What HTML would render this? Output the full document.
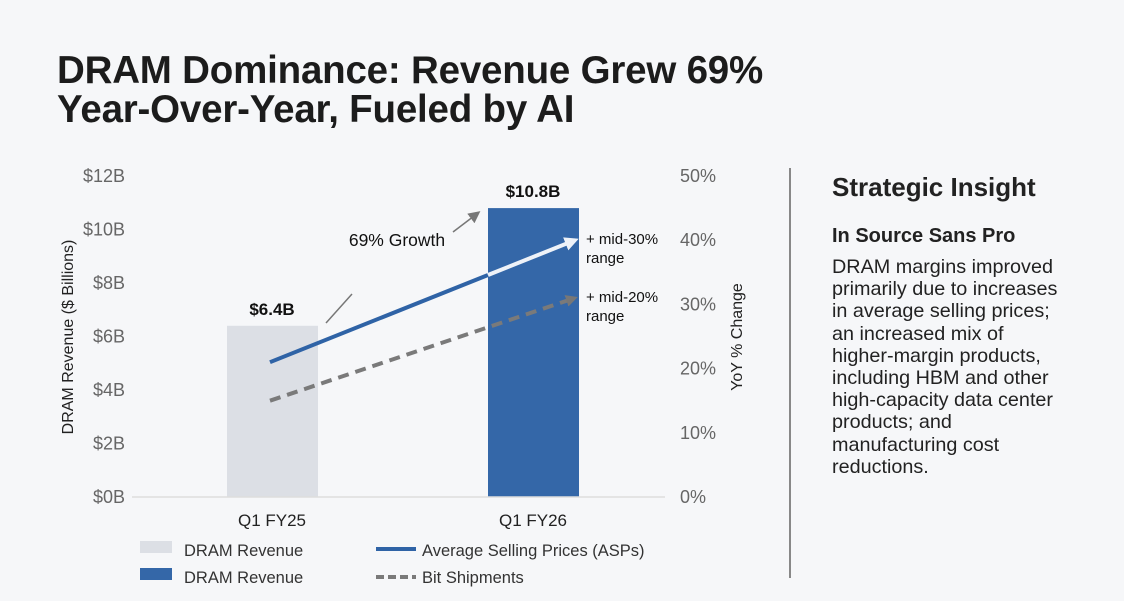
<!DOCTYPE html>
<html><head><meta charset="utf-8"><style>
body{margin:0;width:1124px;height:601px;background:#f6f7f9;font-family:"Liberation Sans",sans-serif;overflow:hidden;position:relative;color:#1a1a1a}
h1{position:absolute;left:57px;top:51px;margin:0;font-size:38.5px;line-height:39px;font-weight:bold;letter-spacing:-0.2px;color:#1c1c1c;white-space:nowrap}
.side{position:absolute;left:832px;top:0;width:290px;white-space:nowrap}
.side h2{position:absolute;top:172px;margin:0;font-size:26px;font-weight:bold;color:#222}
.side h3{position:absolute;top:225px;margin:0;font-size:20px;font-weight:bold;color:#222}
.side p{position:absolute;top:256px;margin:0;font-size:19.8px;line-height:22.2px;color:#222}
</style></head><body>
<h1>DRAM Dominance: Revenue Grew 69%<br>Year-Over-Year, Fueled by AI</h1>
<svg width="1124" height="601" style="position:absolute;left:0;top:0">
<defs>
<marker id="ag" markerWidth="12" markerHeight="12" refX="9" refY="6" orient="auto" markerUnits="userSpaceOnUse"><path d="M0,0 L12,6 L0,12 z" fill="#777"/></marker>
<marker id="aw" markerWidth="14" markerHeight="14" refX="10" refY="7" orient="auto" markerUnits="userSpaceOnUse"><path d="M0,0 L14,7 L0,14 z" fill="#eef2f8"/></marker>
</defs>
<g id="g" font-family="Liberation Sans, sans-serif"></g>
<line x1="790" y1="168" x2="790" y2="578" stroke="#888" stroke-width="2"/>
</svg>
<div class="side">
<h2>Strategic Insight</h2>
<h3>In Source Sans Pro</h3>
<p>DRAM margins improved<br>primarily due to increases<br>in average selling prices;<br>an increased mix of<br>higher-margin products,<br>including HBM and other<br>high-capacity data center<br>products; and<br>manufacturing cost<br>reductions.</p>
</div>
<script>
const categories=["Q1 FY25","Q1 FY26"];
const revenue=[6.4,10.8];
const revLabels=["$6.4B","$10.8B"];
const aspPct=[21,40];
const bitPct=[15,31];
const leftTicks=[0,2,4,6,8,10,12];
const rightTicks=[0,10,20,30,40,50];
const NS="http://www.w3.org/2000/svg";
const g=document.getElementById('g');
const y0=497,yTop=176;
const yL=v=>y0-(y0-yTop)*v/12;
const yR=v=>y0-(y0-yTop)*v/50;
const xC=i=>272+i*261;
function mk(t,a,txt){const e=document.createElementNS(NS,t);for(const k in a)e.setAttribute(k,a[k]);if(txt!==undefined)e.textContent=txt;g.appendChild(e);return e;}
leftTicks.forEach(v=>{const e=mk('text',{x:125,y:yL(v)+6,'text-anchor':'end','font-size':18,fill:'#666'},'$'+v+'B');

});
rightTicks.forEach(v=>{const e=mk('text',{x:680,y:yR(v)+6,'font-size':18,fill:'#666'},v+'%');

});
let t=mk('text',{x:0,y:0,transform:'translate(73,337) rotate(-90)','text-anchor':'middle','font-size':16,fill:'#222'},'DRAM Revenue ($ Billions)');


t=mk('text',{x:0,y:0,transform:'translate(742,337) rotate(-90)','text-anchor':'middle','font-size':16,fill:'#222'},'YoY % Change');


const colors=['#dcdfe5','#3467a8'];
revenue.forEach((v,i)=>{const b=mk('rect',{x:xC(i)-45,y:yL(v),width:91,height:y0-yL(v),fill:colors[i]});


const l=mk('text',{x:xC(i),y:yL(v)-11,'text-anchor':'middle','font-size':17,'font-weight':'bold',fill:'#111'},revLabels[i]);


const c=mk('text',{x:xC(i),y:526,'text-anchor':'middle','font-size':17,fill:'#222'},categories[i]);

});
let ax=mk('line',{x1:132,y1:y0,x2:665,y2:y0,stroke:'#ddd','stroke-width':1.5});


let ga=mk('line',{x1:326,y1:323,x2:352,y2:294,stroke:'#777','stroke-width':1.5});


ga=mk('line',{x1:453,y1:232,x2:478,y2:213,stroke:'#777','stroke-width':1.5,'marker-end':'url(#ag)'});


t=mk('text',{x:397,y:246,'text-anchor':'middle','font-size':17.5,fill:'#111'},'69% Growth');


const xs=[270,575];
let bl=mk('line',{x1:xs[0],y1:yR(bitPct[0]),x2:xs[1],y2:yR(bitPct[1]),stroke:'#7a7a7a','stroke-width':4,'stroke-dasharray':'11 7','marker-end':'url(#ag)'});


const xm=xC(1)-45, f=(xm-xs[0])/(xs[1]-xs[0]);
const ym=yR(aspPct[0])+(yR(aspPct[1])-yR(aspPct[0]))*f;
let al=mk('line',{x1:xs[0],y1:yR(aspPct[0]),x2:xm,y2:ym,stroke:'#2f63a6','stroke-width':4});


al=mk('line',{x1:xm,y1:ym,x2:xs[1],y2:yR(aspPct[1]),stroke:'#eef2f8','stroke-width':4,'marker-end':'url(#aw)'});


[['+ mid-30%',aspPct[1]],['+ mid-20%',bitPct[1]]].forEach(([s,v])=>{const a=mk('text',{x:586,y:yR(v)+4,'font-size':15,fill:'#111'},s);


const b=mk('text',{x:586,y:yR(v)+23,'font-size':15,fill:'#111'},'range');

});
[[140,550,'#dcdfe5','DRAM Revenue'],[140,577,'#3467a8','DRAM Revenue']].forEach(([x,y,c,s])=>{const r=mk('rect',{x:x,y:y-9,width:32,height:12,fill:c});


const tt=mk('text',{x:184,y:y+6,'font-size':16.5,fill:'#333'},s);

});
let l1=mk('line',{x1:376,y1:549,x2:416,y2:549,stroke:'#2f63a6','stroke-width':4});


let l2=mk('line',{x1:376,y1:577,x2:416,y2:577,stroke:'#7a7a7a','stroke-width':4,'stroke-dasharray':'8 4'});


let lt=mk('text',{x:422,y:556,'font-size':16.5,fill:'#333'},'Average Selling Prices (ASPs)');


lt=mk('text',{x:422,y:583,'font-size':16.5,fill:'#333'},'Bit Shipments');


</script>
</body></html>
